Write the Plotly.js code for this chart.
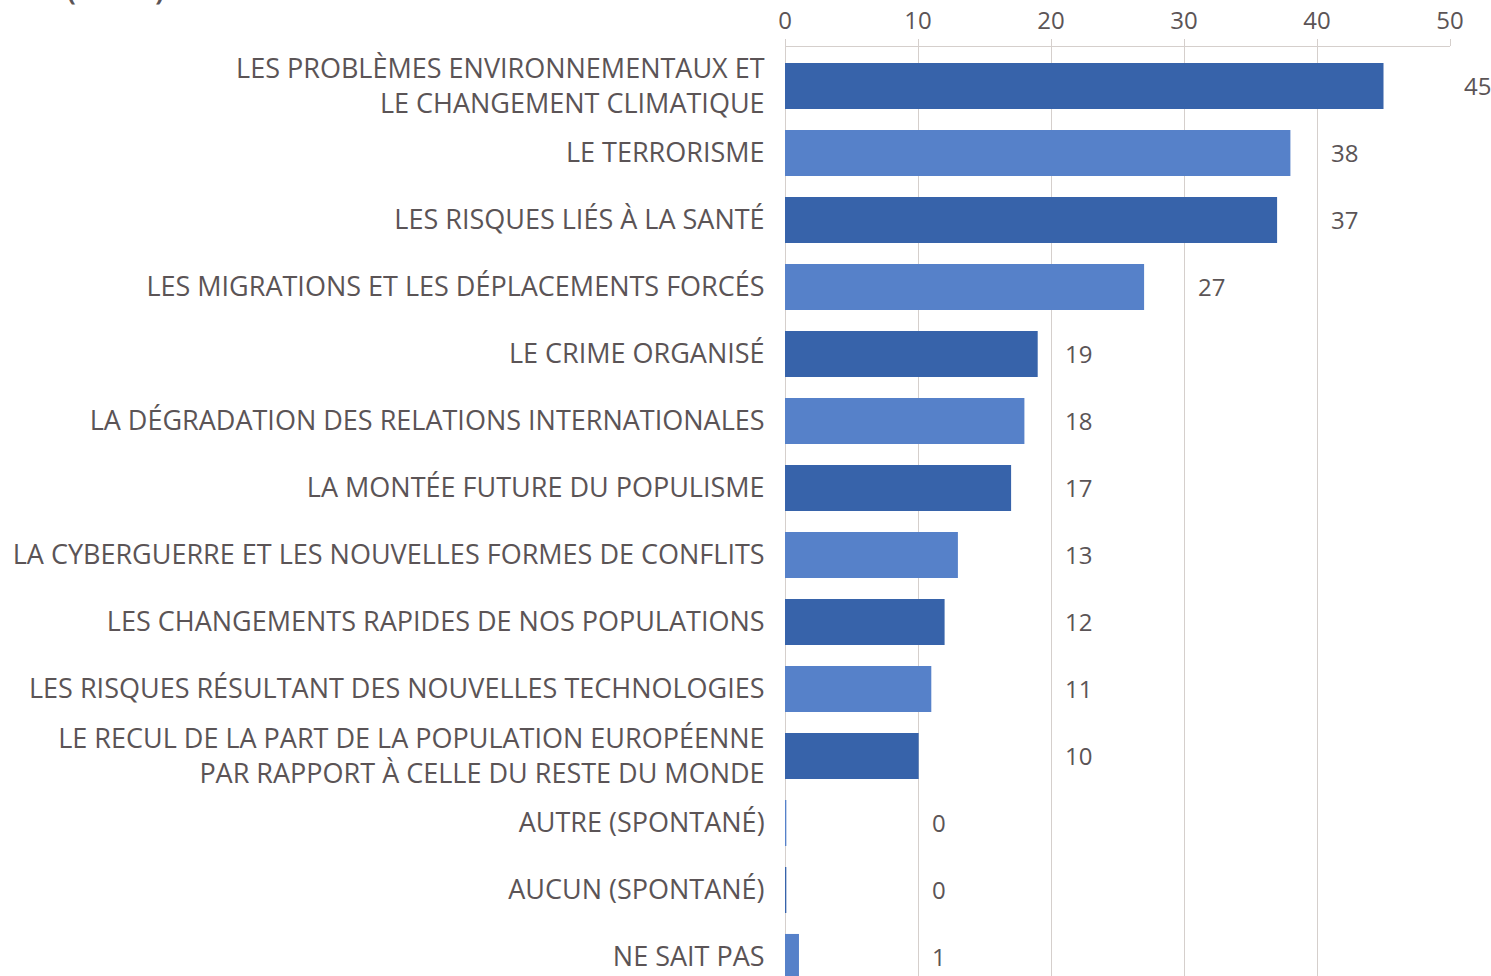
<!DOCTYPE html>
<html>
<head>
<meta charset="utf-8">
<script src="https://cdn.plot.ly/plotly-3.0.1.min.js"></script>
<style>
  html, body { margin: 0; padding: 0; background: #fff; }
  #chart { width: 1491px; height: 976px; }
</style>
</head>
<body>
<div id="chart"></div>
<script>
// catégories, de haut en bas
var categories = [
  'LES PROBLÈMES ENVIRONNEMENTAUX ET<br>LE CHANGEMENT CLIMATIQUE',
  'LE TERRORISME',
  'LES RISQUES LIÉS À LA SANTÉ',
  'LES MIGRATIONS ET LES DÉPLACEMENTS FORCÉS',
  'LE CRIME ORGANISÉ',
  'LA DÉGRADATION DES RELATIONS INTERNATIONALES',
  'LA MONTÉE FUTURE DU POPULISME',
  'LA CYBERGUERRE ET LES NOUVELLES FORMES DE CONFLITS',
  'LES CHANGEMENTS RAPIDES DE NOS POPULATIONS',
  'LES RISQUES RÉSULTANT DES NOUVELLES TECHNOLOGIES',
  'LE RECUL DE LA PART DE LA POPULATION EUROPÉENNE<br>PAR RAPPORT À CELLE DU RESTE DU MONDE',
  'AUTRE (SPONTANÉ)',
  'AUCUN (SPONTANÉ)',
  'NE SAIT PAS'
];
var values = [45, 38, 37, 27, 19, 18, 17, 13, 12, 11, 10.05, 0.1, 0.1, 1.05];
var valueLabels = ['45', '38', '37', '27', '19', '18', '17', '13', '12', '11', '10', '0', '0', '1'];
// position (en %) où les étiquettes apparaissent dans l'original
var labelX = [50.9, 40.9, 40.9, 30.9, 20.9, 20.9, 20.9, 20.9, 20.9, 20.9, 20.9, 10.9, 10.9, 10.9];
var xMax = 50;

var dark = '#3763AA', light = '#5681C9';
var barColors = categories.map(function (c, i) { return i % 2 === 0 ? dark : light; });

var grey = '#5B5456';
var gridCol = '#D5CFCC';
var font = 'Open Sans, Noto Sans, sans-serif';

var bars = {
  type: 'bar',
  orientation: 'h',
  x: values,
  y: categories,
  marker: { color: barColors, line: { width: 0 } },
  hoverinfo: 'x+y',
  showlegend: false
};

// étiquettes de valeur (en coordonnées papier pour pouvoir dépasser 50)
var valueNotes = valueLabels.map(function (t, i) {
  return {
    text: t,
    xref: 'paper', yref: 'y',
    x: labelX[i] / xMax, y: categories[i],
    xanchor: 'left', yanchor: 'middle',
    showarrow: false,
    font: { family: font, size: 24, color: grey }
  };
});

var layout = {
  width: 1491,
  height: 976,
  margin: { l: 785, r: 41, t: 47, b: 0 },
  paper_bgcolor: '#fff',
  plot_bgcolor: '#fff',
  font: { family: font, color: grey },
  bargap: 0.313,
  xaxis: {
    side: 'top',
    range: [0, xMax],
    tickvals: [0, 10, 20, 30, 40, 50],
    showgrid: true,
    gridcolor: gridCol,
    gridwidth: 1,
    zeroline: true,
    zerolinecolor: gridCol,
    zerolinewidth: 1,
    showline: true,
    linecolor: gridCol,
    linewidth: 1,
    ticks: 'outside',
    ticklen: 7,
    tickcolor: gridCol,
    tickfont: { family: font, size: 24, color: grey },
    fixedrange: true
  },
  yaxis: {
    type: 'category',
    categoryarray: categories,
    range: [13.284, -0.582],
    showgrid: false,
    zeroline: false,
    showline: false,
    ticks: 'outside',
    ticklen: 14,
    tickcolor: 'rgba(0,0,0,0)',
    tickfont: { family: font, size: 27, color: grey },
    fixedrange: true
  },
  annotations: valueNotes.concat([{
    text: '<b>(% - UE)</b>',
    xref: 'paper', yref: 'paper',
    x: -1.083, y: 1.04,
    xanchor: 'left', yanchor: 'bottom',
    showarrow: false,
    font: { family: font, size: 26, color: grey }
  }])
};

Plotly.newPlot('chart', [bars], layout, { displayModeBar: false, staticPlot: true });
</script>
</body>
</html>
